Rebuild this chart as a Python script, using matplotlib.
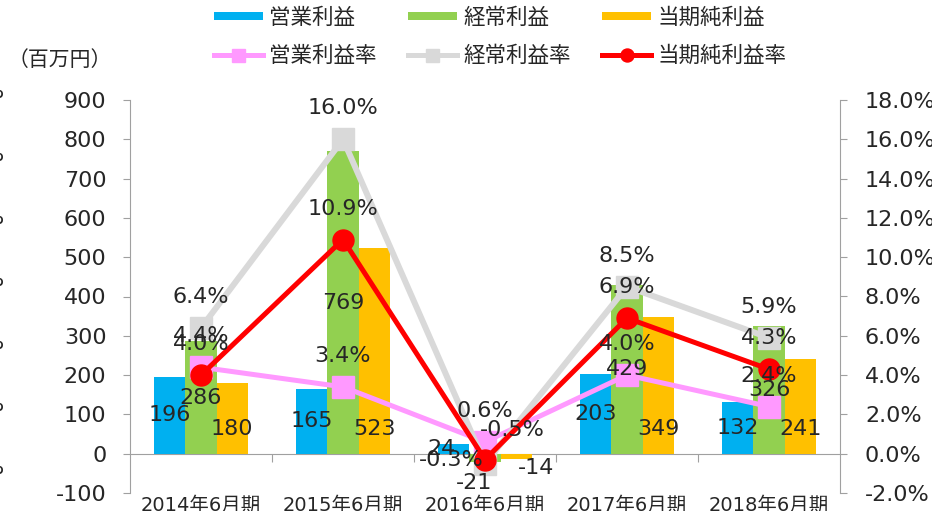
import matplotlib
matplotlib.use('Agg')
import matplotlib.pyplot as plt
from matplotlib.lines import Line2D
import numpy as np

# ---- data ----
categories = ['2014年6月期', '2015年6月期', '2016年6月期', '2017年6月期', '2018年6月期']
op_profit = [196, 165, 24, 203, 132]          # 営業利益
ord_profit = [286, 769, -21, 429, 326]        # 経常利益
net_profit = [180, 523, -14, 349, 241]        # 当期純利益
op_margin = [4.4, 3.4, 0.6, 4.0, 2.4]         # 営業利益率 (%)
ord_margin = [6.4, 16.0, -0.5, 8.5, 5.9]      # 経常利益率 (%)
net_margin = [4.0, 10.9, -0.3, 6.9, 4.3]      # 当期純利益率 (%)
left_ticks = list(range(-100, 1000, 100))
right_ticks = list(range(-2, 20, 2))
bar_names = ['営業利益', '経常利益', '当期純利益']
rate_names = ['営業利益率', '経常利益率', '当期純利益率']
unit_label = '（百万円）'

# ---- style ----
plt.rcParams['font.family'] = ['DejaVu Sans', 'Noto Sans CJK JP']
TXT = '#262626'
GRID = '#A0A0A0'
C_BLUE, C_GREEN, C_ORANGE = '#00B0F0', '#92D050', '#FFC000'
C_PINK, C_GREY, C_RED = '#FF99FF', '#D9D9D9', '#FF0000'
PX = 0.72  # points per pixel at dpi 100

W, H = 932, 511
fig = plt.figure(figsize=(W / 100, H / 100), dpi=100)
ax = fig.add_axes([130 / W, 18 / H, 710 / W, 393 / H])
ax2 = ax.twinx()

x = np.arange(len(categories))
bw = 0.22
ax.bar(x - bw, op_profit, bw, color=C_BLUE, zorder=2)
ax.bar(x, ord_profit, bw, color=C_GREEN, zorder=2)
ax.bar(x + bw, net_profit, bw, color=C_ORANGE, zorder=2)

ax.set_xlim(-0.5, len(categories) - 0.5)
ax.set_ylim(-100, 900)
ax.set_yticks(left_ticks)
ax.set_yticklabels([str(t) for t in left_ticks])
ax2.set_ylim(-2, 18)
ax2.set_yticks(right_ticks)
ax2.set_yticklabels([f'{t:.1f}%' for t in right_ticks])

# lines
ax2.plot(x, op_margin, color=C_PINK, lw=5 * PX, marker='s', ms=22 * PX, zorder=3)
ax2.plot(x, ord_margin, color=C_GREY, lw=6 * PX, marker='s', ms=22 * PX, zorder=3)
ax2.plot(x, net_margin, color=C_RED, lw=5 * PX, marker='o', ms=21 * PX, zorder=4)

# axes styling
for a in (ax, ax2):
    for s in ('top', 'bottom'):
        a.spines[s].set_visible(False)
ax.spines['right'].set_visible(False)
ax2.spines['left'].set_visible(False)
ax.spines['left'].set_color(GRID)
ax2.spines['right'].set_color(GRID)
ax.tick_params(axis='y', length=5, color=GRID, labelsize=16, labelcolor=TXT, pad=12)
ax2.tick_params(axis='y', length=5, color=GRID, labelsize=16, labelcolor=TXT, pad=13)
ax.set_xticks(x)
ax.set_xticklabels(categories, fontsize=14, color=TXT)
ax.tick_params(axis='x', length=0, pad=2)

# zero line with category separators
sec = ax.secondary_xaxis(0.1)
sec.set_xticks(x[:-1] + 0.5)
sec.tick_params(axis='x', length=6, color=GRID, labelbottom=False, direction='out')
sec.spines['bottom'].set_color(GRID)

# ---- data labels ----
lbl_kw = dict(textcoords='offset points', ha='center', va='center',
              fontsize=16, color=TXT, zorder=10, annotation_clip=False)

def bar_label(xv, v, mode, dx=0, dy=0):
    if mode == 'center':
        y = v / 2
        off = (dx * PX, dy * PX)
    else:  # inside base
        y = 0
        off = (dx * PX, (25 if v >= 0 else -14) * PX + dy * PX)
    ax2.annotate(f'{v}', xy=(xv, y), xycoords=ax.transData, xytext=off, **lbl_kw)

for i in range(len(categories)):
    small = abs(op_profit[i]) < 50
    bar_label(x[i] - bw, op_profit[i], 'center', dx=-12 if small else 0)
    if ord_profit[i] < 0:
        bar_label(x[i], ord_profit[i], 'center', dx=-11, dy=-25)
    else:
        bar_label(x[i], ord_profit[i], 'center')
    bar_label(x[i] + bw, net_profit[i], 'base', dx=20 if net_profit[i] < 0 else 0)

def rate_label(xv, v, dx=0, dy=31):
    ax2.annotate(f'{v:.1f}%', xy=(xv, v), xytext=(dx * PX, dy * PX), **lbl_kw)

for i in range(len(categories)):
    rate_label(x[i], op_margin[i])
    if ord_margin[i] < 0:
        rate_label(x[i], ord_margin[i], dx=27, dy=34)
    else:
        rate_label(x[i], ord_margin[i])
    if net_margin[i] < 0:
        rate_label(x[i], net_margin[i], dx=-34, dy=0)
    else:
        rate_label(x[i], net_margin[i])

# ---- legend ----
handles = []
labels = []
for bc, rc, mk, bn, rn in zip([C_BLUE, C_GREEN, C_ORANGE], [C_PINK, C_GREY, C_RED],
                              ['s', 's', 'o'], bar_names, rate_names):
    handles.append(Line2D([], [], color=bc, lw=8 * PX, solid_capstyle='butt'))
    labels.append(bn)
    handles.append(Line2D([], [], color=rc, lw=5 * PX, marker=mk, ms=13 * PX))
    labels.append(rn)
fig.legend(handles, labels, loc='upper left', bbox_to_anchor=(214 / W, 1 - 7 / H),
           ncol=3, frameon=False, fontsize=15.5, handlelength=2.27, handletextpad=0.3,
           columnspacing=1.45, labelspacing=0.85, borderpad=0, borderaxespad=0,
           labelcolor=TXT)

fig.text(8 / W, 1 - 60 / H, unit_label, fontsize=15, color=TXT, va='center', ha='left')

# clipped '%' fragments at the far left edge
for yy in [92, 155, 218, 280, 343, 405, 468]:
    fig.text(4 / W, 1 - yy / H, '%', fontsize=16, color=TXT, ha='right', va='center')

fig.savefig('out.png', dpi=100)
